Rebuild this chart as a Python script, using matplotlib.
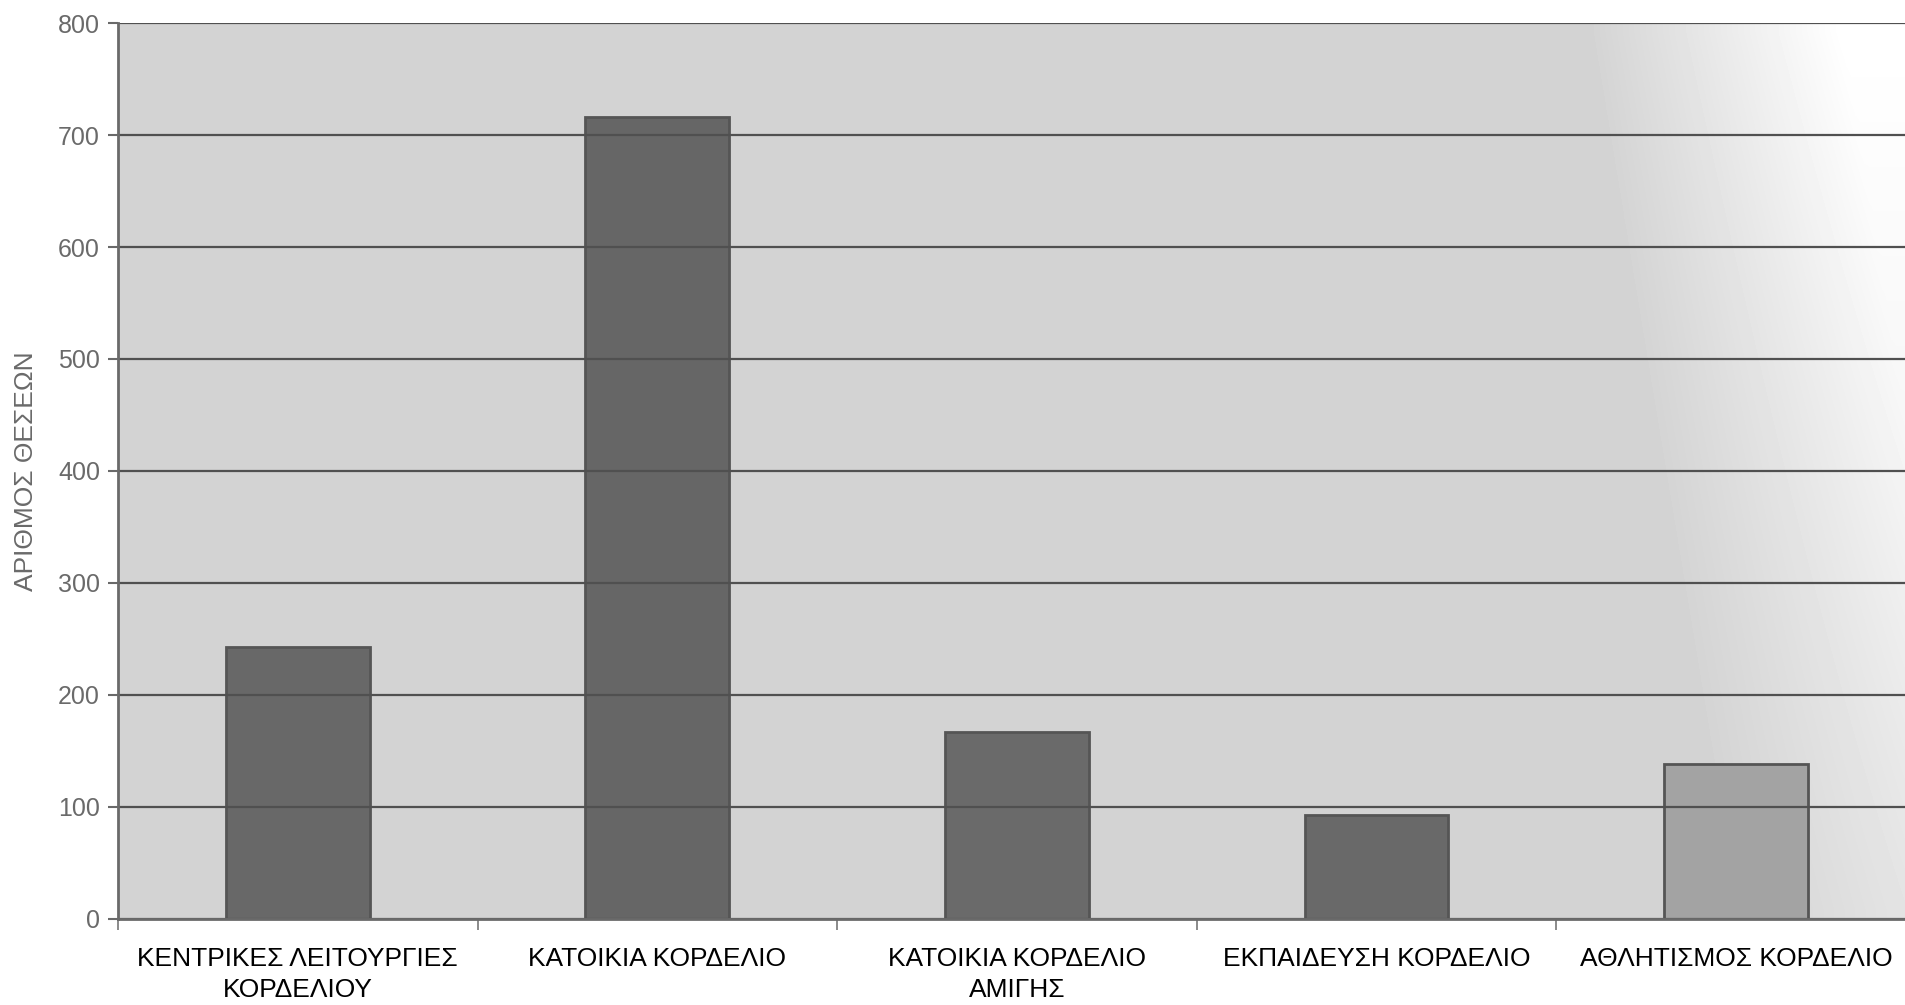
import numpy as np
import matplotlib
matplotlib.use("Agg")
import matplotlib.pyplot as plt

# seats per land use, Kordelio
categories = [
    "ΚΕΝΤΡΙΚΕΣ ΛΕΙΤΟΥΡΓΙΕΣ\nΚΟΡΔΕΛΙΟΥ",
    "ΚΑΤΟΙΚΙΑ ΚΟΡΔΕΛΙΟ",
    "ΚΑΤΟΙΚΙΑ ΚΟΡΔΕΛΙΟ\nΑΜΙΓΗΣ",
    "ΕΚΠΑΙΔΕΥΣΗ ΚΟΡΔΕΛΙΟ",
    "ΑΘΛΗΤΙΣΜΟΣ ΚΟΡΔΕΛΙΟ",
]
seats = [243, 716, 167, 93, 138]
bar_colors = ["#686868", "#666666", "#6a6a6a", "#696969", "#a3a3a3"]
y_ticks = [0, 100, 200, 300, 400, 500, 600, 700, 800]

plt.rcParams["font.family"] = ["Liberation Sans", "DejaVu Sans"]

fig = plt.figure(figsize=(19.06, 10.05), dpi=100)
ax = fig.add_axes([0.0619, 0.0856, 0.9433, 0.8915])

x = np.arange(len(categories))
ax.set_xlim(-0.5, len(categories) - 0.5)
ax.set_ylim(0, 800)

# grey backdrop, fading to white near the right edge (more so at the top)
xs = np.linspace(0, 1, 400)
ys = np.linspace(0, 1, 50)[:, None]
start = 0.90 - 0.08 * ys
ramp = np.clip((xs[None, :] - start) / 0.14, 0, 1)
backdrop = 0.83 + 0.17 * ramp * (0.55 + 0.45 * ys)
ax.imshow(backdrop, cmap="gray", vmin=0, vmax=1, aspect="auto", origin="lower",
          extent=(-0.5, len(categories) - 0.5, 0, 800), zorder=0,
          interpolation="bilinear")

ax.yaxis.grid(True, color="#505050", linewidth=1.6, zorder=1)
ax.set_axisbelow(False)

ax.bar(x, seats, width=0.4, color=bar_colors, edgecolor="#555555",
       linewidth=2.0, zorder=2)

ax.set_yticks(y_ticks)
ax.tick_params(axis="y", labelsize=18, labelcolor="#6a6a6a", color="#6a6a6a",
               length=7, width=1.5, pad=6)

# boundary ticks between groups, labels centred under the bars
ax.set_xticks(np.arange(len(categories) + 1) - 0.5)
ax.set_xticklabels([])
ax.tick_params(axis="x", which="major", length=8, width=1.2, color="#777777")
ax.set_xticks(x, minor=True)
ax.set_xticklabels(categories, minor=True, fontsize=19, color="black",
                   linespacing=1.4)
ax.tick_params(axis="x", which="minor", length=0, pad=20)

ax.set_ylabel("ΑΡΙΘΜΟΣ ΘΕΣΕΩΝ", fontsize=19, color="#6a6a6a", labelpad=14)

for side in ["top", "right"]:
    ax.spines[side].set_visible(False)
for side in ["left", "bottom"]:
    ax.spines[side].set_color("#6a6a6a")
    ax.spines[side].set_linewidth(2.0)
    ax.spines[side].set_zorder(3)

fig.savefig("out.png", dpi=100, facecolor="white")
